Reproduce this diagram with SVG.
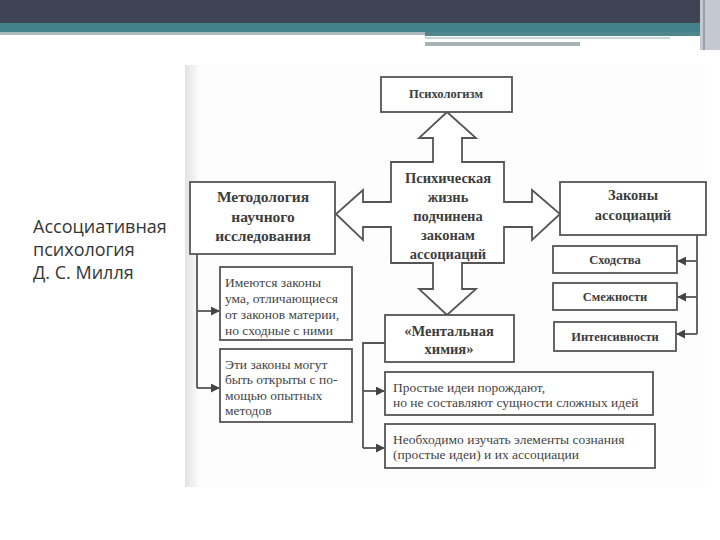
<svg xmlns="http://www.w3.org/2000/svg" width="720" height="540" viewBox="0 0 720 540">
<defs>
<style>
.box{fill:#fff;stroke:#555;stroke-width:1.8}
.b{font-family:"Liberation Serif","DejaVu Serif",serif;font-weight:bold;fill:#3d3d3d;text-anchor:middle}
.r{font-family:"Liberation Serif","DejaVu Serif",serif;fill:#444;font-size:13.5px}
.con{fill:none;stroke:#555;stroke-width:1.8}
.title{font-family:"Open Sans","Noto Sans",sans-serif;font-size:18px;fill:#363636}
</style>
<linearGradient id="edge" x1="0" y1="0" x2="1" y2="0">
<stop offset="0" stop-color="#e2e2e2"/>
<stop offset="1" stop-color="#fcfcfc"/>
</linearGradient>
<marker id="ah" viewBox="0 0 10 10" refX="9" refY="5" markerWidth="9" markerHeight="9" markerUnits="userSpaceOnUse" orient="auto">
<path d="M0,0 L10,5 L0,10 Z" fill="#444"/>
</marker>
</defs>
<rect width="720" height="540" fill="#fff"/>
<!-- header -->
<rect x="0" y="0" width="720" height="23" fill="#3f4454"/>
<rect x="0" y="23" width="720" height="9" fill="#44828a"/>
<rect x="0" y="32" width="425" height="3" fill="#a9b9bd"/>
<rect x="425" y="32" width="280" height="4" fill="#4f878d"/>
<rect x="425" y="37" width="245" height="2" fill="#c9d6d8"/>
<rect x="425" y="42" width="155" height="4" fill="#a6b3b3"/>
<rect x="700" y="0" width="20" height="50" fill="#c5c8d0"/>
<rect x="703" y="0" width="2" height="50" fill="#9aa0ab"/>
<!-- scan background -->
<rect x="185" y="65" width="520" height="422" fill="#fdfdfd"/>
<rect x="185" y="65" width="14" height="422" fill="url(#edge)"/>
<!-- title -->
<g id="title">
<text class="title" x="33" y="233">Ассоциативная</text>
<text class="title" x="33" y="256">психология</text>
<text class="title" x="33" y="279">Д. С. Милля</text>
</g>
<!-- connectors -->
<g id="connectors">
<path class="con" d="M197,254 V388"/>
<path class="con" d="M197,311 H219" marker-end="url(#ah)"/>
<path class="con" d="M197,388 H219" marker-end="url(#ah)"/>
<path class="con" d="M697,235 V334"/>
<path class="con" d="M697,261 H678" marker-end="url(#ah)"/>
<path class="con" d="M697,297 H678" marker-end="url(#ah)"/>
<path class="con" d="M697,334 H677" marker-end="url(#ah)"/>
<path class="con" d="M385,343 H363 V448"/>
<path class="con" d="M363,391 H384" marker-end="url(#ah)"/>
<path class="con" d="M363,448 H384" marker-end="url(#ah)"/>
</g>
<!-- cross -->
<g id="cross">
<path class="box" d="M447,112 L476,138 L462,138 L462,162 L504,162 L504,202 L532,202 L532,190 L560,214 L532,240 L532,227 L504,227 L504,263 L462,263 L462,289 L476,289 L447,315 L419,289 L433,289 L433,263 L391,263 L391,227 L363,227 L363,240 L336,214 L363,190 L363,202 L391,202 L391,162 L433,162 L433,138 L419,138 Z"/>
<text class="b" font-size="14.5" x="448" y="183">Психическая</text>
<text class="b" font-size="14.5" x="448" y="202">жизнь</text>
<text class="b" font-size="14.5" x="448" y="221">подчинена</text>
<text class="b" font-size="14.5" x="448" y="240">законам</text>
<text class="b" font-size="14.5" x="448" y="259">ассоциаций</text>
</g>
<g id="psych">
<rect class="box" x="381" y="77" width="131" height="35"/>
<text class="b" font-size="12.5" x="446" y="98">Психологизм</text>
</g>
<g id="method">
<rect class="box" x="190" y="182" width="145" height="72"/>
<text class="b" font-size="15.5" x="263" y="202">Методология</text>
<text class="b" font-size="15.5" x="263" y="222">научного</text>
<text class="b" font-size="15.5" x="263" y="241">исследования</text>
</g>
<g id="laws">
<rect class="box" x="560" y="182" width="146" height="53"/>
<text class="b" font-size="14.5" x="633" y="200">Законы</text>
<text class="b" font-size="14.5" x="633" y="220">ассоциаций</text>
</g>
<g id="sim">
<rect class="box" x="553" y="246" width="124" height="27"/>
<text class="b" font-size="12.5" x="615" y="264">Сходства</text>
</g>
<g id="cont">
<rect class="box" x="553" y="283" width="124" height="27"/>
<text class="b" font-size="12.5" x="615" y="301">Смежности</text>
</g>
<g id="int">
<rect class="box" x="554" y="322" width="122" height="29"/>
<text class="b" font-size="12.5" x="615" y="341">Интенсивности</text>
</g>
<g id="chem">
<rect class="box" x="385" y="315" width="129" height="47"/>
<text class="b" font-size="14.5" x="449" y="336">«Ментальная</text>
<text class="b" font-size="14.5" x="449" y="354">химия»</text>
</g>
<g id="mind">
<rect class="box" x="220" y="267" width="132" height="73"/>
<text class="r" x="225" y="287">Имеются законы</text>
<text class="r" x="225" y="303">ума, отличающиеся</text>
<text class="r" x="225" y="319">от законов материи,</text>
<text class="r" x="225" y="335">но сходные с ними</text>
</g>
<g id="exp">
<rect class="box" x="220" y="349" width="132" height="73"/>
<text class="r" x="225" y="369">Эти законы могут</text>
<text class="r" x="225" y="384">быть открыты с по-</text>
<text class="r" x="225" y="400">мощью опытных</text>
<text class="r" x="225" y="415">методов</text>
</g>
<g id="simple">
<rect class="box" x="385" y="372" width="268" height="43"/>
<text class="r" x="393" y="392">Простые идеи порождают,</text>
<text class="r" x="393" y="407">но не составляют сущности сложных идей</text>
</g>
<g id="study">
<rect class="box" x="385" y="424" width="270" height="44"/>
<text class="r" x="393" y="444">Необходимо изучать элементы сознания</text>
<text class="r" x="393" y="459">(простые идеи) и их ассоциации</text>
</g>
</svg>
